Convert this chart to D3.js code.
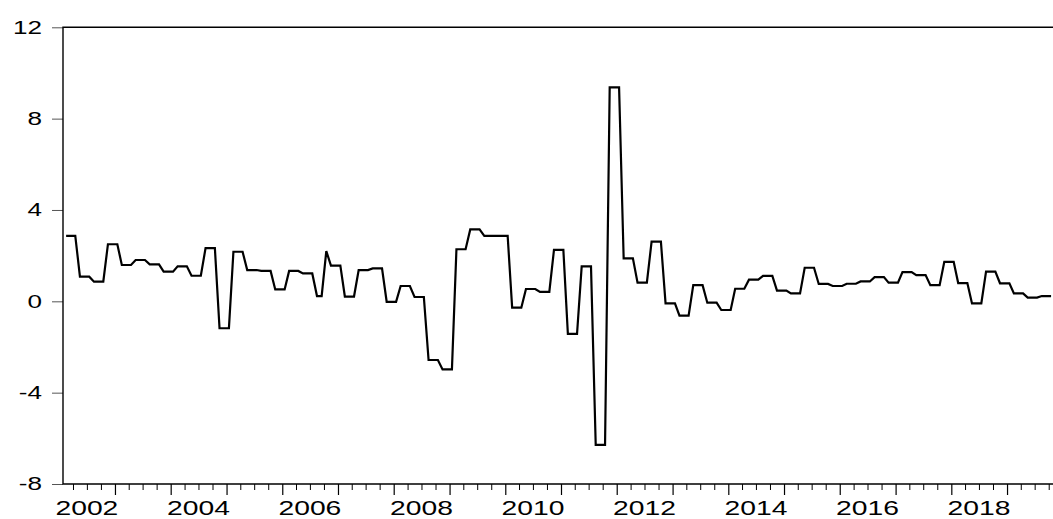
<!DOCTYPE html>
<html>
<head>
<meta charset="utf-8">
<script src="https://cdn.jsdelivr.net/npm/d3@7"></script>
<style>
  html, body { margin: 0; padding: 0; background: #fff; }
  svg { display: block; }
  text { font-family: "Liberation Sans", Arial, sans-serif; fill: #000; }
</style>
</head>
<body>
<svg id="chart" width="1053" height="519"></svg>
<script>
// Monthly series, February 2002 through October 2019
const startYear = 2002;
const startMonth = 1; // February (0-based month index)
const values = [
  2.87, 2.87, 2.87, 1.08, 1.08, 1.08, 0.86, 0.86, 0.86, 2.50, 2.50,
  2.50, 1.59, 1.59, 1.59, 1.81, 1.81, 1.81, 1.62, 1.62, 1.62, 1.30, 1.30,
  1.30, 1.53, 1.53, 1.53, 1.12, 1.12, 1.12, 2.33, 2.33, 2.33, -1.18, -1.18,
  -1.18, 2.17, 2.17, 2.17, 1.37, 1.37, 1.37, 1.33, 1.33, 1.33, 0.52, 0.52,
  0.52, 1.33, 1.33, 1.33, 1.22, 1.22, 1.22, 0.23, 0.23, 2.20, 1.56, 1.56,
  1.56, 0.21, 0.21, 0.21, 1.37, 1.37, 1.37, 1.44, 1.44, 1.44, -0.02, -0.02,
  -0.02, 0.67, 0.67, 0.67, 0.19, 0.19, 0.19, -2.57, -2.57, -2.57, -2.98, -2.98,
  -2.98, 2.28, 2.28, 2.28, 3.15, 3.15, 3.15, 2.87, 2.87, 2.87, 2.87, 2.87,
  2.87, -0.28, -0.28, -0.28, 0.54, 0.54, 0.54, 0.41, 0.41, 0.41, 2.25, 2.25,
  2.25, -1.43, -1.43, -1.43, 1.53, 1.53, 1.53, -6.29, -6.29, -6.29, 9.37, 9.37,
  9.37, 1.88, 1.88, 1.88, 0.82, 0.82, 0.82, 2.61, 2.61, 2.61, -0.09, -0.09,
  -0.09, -0.63, -0.63, -0.63, 0.71, 0.71, 0.71, -0.06, -0.06, -0.06, -0.38, -0.38,
  -0.38, 0.55, 0.55, 0.55, 0.95, 0.95, 0.95, 1.11, 1.11, 1.11, 0.47, 0.47,
  0.47, 0.35, 0.35, 0.35, 1.47, 1.47, 1.47, 0.76, 0.76, 0.76, 0.67, 0.67,
  0.67, 0.77, 0.77, 0.77, 0.87, 0.87, 0.87, 1.06, 1.06, 1.06, 0.82, 0.82,
  0.82, 1.28, 1.28, 1.28, 1.15, 1.15, 1.15, 0.71, 0.71, 0.71, 1.73, 1.73,
  1.73, 0.80, 0.80, 0.80, -0.09, -0.09, -0.09, 1.30, 1.30, 1.30, 0.79, 0.79,
  0.79, 0.35, 0.35, 0.35, 0.16, 0.16, 0.16, 0.23, 0.23, 0.23
];
const yTicks = [-8, -4, 0, 4, 8, 12];
const yearLabels = [2002, 2004, 2006, 2008, 2010, 2012, 2014, 2016, 2018];

const svg = d3.select("#chart");
const plot = { left: 63, right: 1053, top: 27.3, bottom: 484 };

// Time scale: one year spans about 55.75 px
const yearPx = 55.75;
const x0 = 59.25;
const x = d3.scaleTime()
  .domain([new Date(2002, 0, 1), new Date(2020, 0, 1)])
  .range([x0, x0 + 18 * yearPx]);

const y = d3.scaleLinear().domain([-8, 12]).range([plot.bottom, plot.top]);

// Points sit at the middle of each month
const data = values.map((v, i) => {
  const s = new Date(startYear, startMonth + i, 1);
  const e = new Date(startYear, startMonth + i + 1, 1);
  return { date: new Date((+s + +e) / 2), value: v };
});

// Clip region for the series
svg.append("defs").append("clipPath").attr("id", "plotClip")
  .append("rect")
  .attr("x", plot.left).attr("y", plot.top)
  .attr("width", plot.right - plot.left).attr("height", plot.bottom - plot.top);

// Y axis ticks and labels
const yAxis = d3.axisLeft(y).tickValues(yTicks).tickSize(11).tickFormat("");
const gy = svg.append("g").attr("transform", `translate(${plot.left},0)`).call(yAxis);
gy.select(".domain").remove();
gy.selectAll(".tick line").attr("stroke", "#555").attr("stroke-width", 1);

svg.append("g").selectAll("text")
  .data(yTicks)
  .join("text")
  .attr("transform", d => `translate(42,${y(d)}) scale(1.45,1)`)
  .attr("text-anchor", "end")
  .attr("dy", "0.36em")
  .style("font-size", "18px")
  .text(d => d);

// X axis: yearly major ticks and quarterly minor ticks
const inRange = d => x(d) >= plot.left - 0.5 && x(d) <= plot.right + 0.5;
const majorDates = d3.timeYear.range(new Date(2002, 0, 1), new Date(2020, 1, 1)).filter(inRange);
const minorDates = d3.timeMonth.every(3).range(new Date(2002, 0, 1), new Date(2020, 1, 1))
  .filter(d => d.getMonth() !== 0).filter(inRange);

const gxMinor = svg.append("g").attr("transform", `translate(0,${plot.bottom})`)
  .call(d3.axisBottom(x).tickValues(minorDates).tickSize(6).tickFormat(""));
gxMinor.select(".domain").remove();
gxMinor.selectAll(".tick line").attr("stroke", "#000").attr("stroke-width", 1);

const gxMajor = svg.append("g").attr("transform", `translate(0,${plot.bottom})`)
  .call(d3.axisBottom(x).tickValues(majorDates).tickSize(11).tickFormat(""));
gxMajor.select(".domain").remove();
gxMajor.selectAll(".tick line").attr("stroke", "#000").attr("stroke-width", 1.2);

// Year labels centred within their year
svg.append("g").selectAll("text")
  .data(yearLabels)
  .join("text")
  .attr("transform", d => `translate(${x(new Date(d, 6, 1))},514.5) scale(1.45,1)`)
  .attr("text-anchor", "middle")
  .style("font-size", "19.5px")
  .text(d => d);

// Frame
svg.append("path")
  .attr("d", `M${plot.right + 5},${plot.top}H${plot.left}V${plot.bottom}H${plot.right + 5}`)
  .attr("fill", "none")
  .attr("stroke", "#000")
  .attr("stroke-width", 1.4);

// Series line
const line = d3.line().x(d => x(d.date)).y(d => y(d.value));
svg.append("path")
  .datum(data)
  .attr("clip-path", "url(#plotClip)")
  .attr("d", line)
  .attr("fill", "none")
  .attr("stroke", "#000")
  .attr("stroke-width", 2.2)
  .attr("stroke-linejoin", "miter");
</script>
</body>
</html>
